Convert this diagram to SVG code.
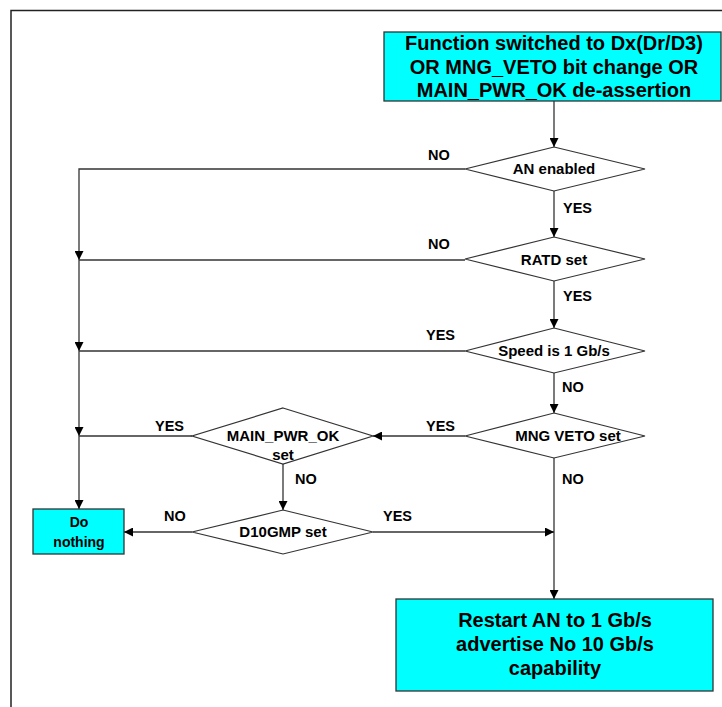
<svg xmlns="http://www.w3.org/2000/svg" width="722" height="707" viewBox="0 0 722 707">
<defs>
<style>
.frame{fill:none;stroke:#222;stroke-width:1.5}
.box{fill:#00ffff;stroke:#333;stroke-width:1.3}
.dia{fill:#fff;stroke:#333;stroke-width:1.2}
.ln{fill:none;stroke:#333;stroke-width:1.3}
text{font-family:"Liberation Sans",Arial,sans-serif;font-weight:bold;fill:#000}
.big{font-size:20px;text-anchor:middle}
.dt{font-size:15px;text-anchor:middle}
.lb{font-size:14.5px}
.sm{font-size:14px;text-anchor:middle}
</style>
<marker id="ah" viewBox="0 0 10 10" refX="10" refY="5" markerWidth="9" markerHeight="9" markerUnits="userSpaceOnUse" orient="auto">
<path d="M0,0 L10,5 L0,10 Z" fill="#000"/>
</marker>
</defs>
<rect width="722" height="707" fill="#fff"/>
<path class="frame" d="M11,707 V10.5 H722"/>

<g id="connectors">
<path class="ln" d="M554,101 V147" marker-end="url(#ah)"/>
<path class="ln" d="M554,191 V237" marker-end="url(#ah)"/>
<path class="ln" d="M554,281 V328" marker-end="url(#ah)"/>
<path class="ln" d="M554,373 V413" marker-end="url(#ah)"/>
<path class="ln" d="M554,458 V599" marker-end="url(#ah)"/>
<path class="ln" d="M465,169 H79 V260" marker-end="url(#ah)"/>
<path class="ln" d="M79,260 V351" marker-end="url(#ah)"/>
<path class="ln" d="M79,351 V436" marker-end="url(#ah)"/>
<path class="ln" d="M79,436 V509" marker-end="url(#ah)"/>
<path class="ln" d="M465,260 H79"/>
<path class="ln" d="M465,351 H79"/>
<path class="ln" d="M192,436 H79"/>
<path class="ln" d="M465,436 H373" marker-end="url(#ah)"/>
<path class="ln" d="M283,464 V510" marker-end="url(#ah)"/>
<path class="ln" d="M192,532 H124" marker-end="url(#ah)"/>
<path class="ln" d="M373,532 H554" marker-end="url(#ah)"/>
<text class="lb" x="428" y="160">NO</text>
<text class="lb" x="563" y="213">YES</text>
<text class="lb" x="428" y="249">NO</text>
<text class="lb" x="563" y="301">YES</text>
<text class="lb" x="426" y="340">YES</text>
<text class="lb" x="562" y="392">NO</text>
<text class="lb" x="426" y="431">YES</text>
<text class="lb" x="155" y="431">YES</text>
<text class="lb" x="295" y="484">NO</text>
<text class="lb" x="562" y="484">NO</text>
<text class="lb" x="383" y="521">YES</text>
<text class="lb" x="164" y="521">NO</text>
</g>

<g id="start">
<rect class="box" x="384" y="32" width="337" height="69"/>
<text class="big" x="554" y="50">Function switched to Dx(Dr/D3)</text>
<text class="big" x="554" y="74">OR MNG_VETO bit change OR</text>
<text class="big" x="554" y="97">MAIN_PWR_OK de-assertion</text>
</g>

<g id="an-enabled">
<polygon class="dia" points="554,147 645,169 554,191 465,169"/>
<text class="dt" x="554" y="174">AN enabled</text>
</g>

<g id="ratd-set">
<polygon class="dia" points="554,237 645,259 554,281 465,259"/>
<text class="dt" x="554" y="265">RATD set</text>
</g>

<g id="speed">
<polygon class="dia" points="554,328 645,351 554,373 465,351"/>
<text class="dt" x="554" y="356">Speed is 1 Gb/s</text>
</g>

<g id="mng-veto">
<polygon class="dia" points="554,413 645,436 554,458 465,436"/>
<text class="dt" x="568" y="441">MNG VETO set</text>
</g>

<g id="main-pwr-ok">
<polygon class="dia" points="283,408 373,436 283,464 192,436"/>
<text class="dt" x="283" y="441">MAIN_PWR_OK</text>
<text class="dt" x="283" y="460">set</text>
</g>

<g id="d10gmp">
<polygon class="dia" points="283,510 373,532 283,554 192,532"/>
<text class="dt" x="283" y="537">D10GMP set</text>
</g>

<g id="do-nothing">
<rect class="box" x="33" y="509" width="91" height="45"/>
<text class="sm" x="79" y="527">Do</text>
<text class="sm" x="79" y="547">nothing</text>
</g>

<g id="restart">
<rect class="box" x="396" y="599" width="317" height="92"/>
<text class="big" x="555" y="627">Restart AN to 1 Gb/s</text>
<text class="big" x="555" y="651">advertise No 10 Gb/s</text>
<text class="big" x="555" y="675">capability</text>
</g>
</svg>
